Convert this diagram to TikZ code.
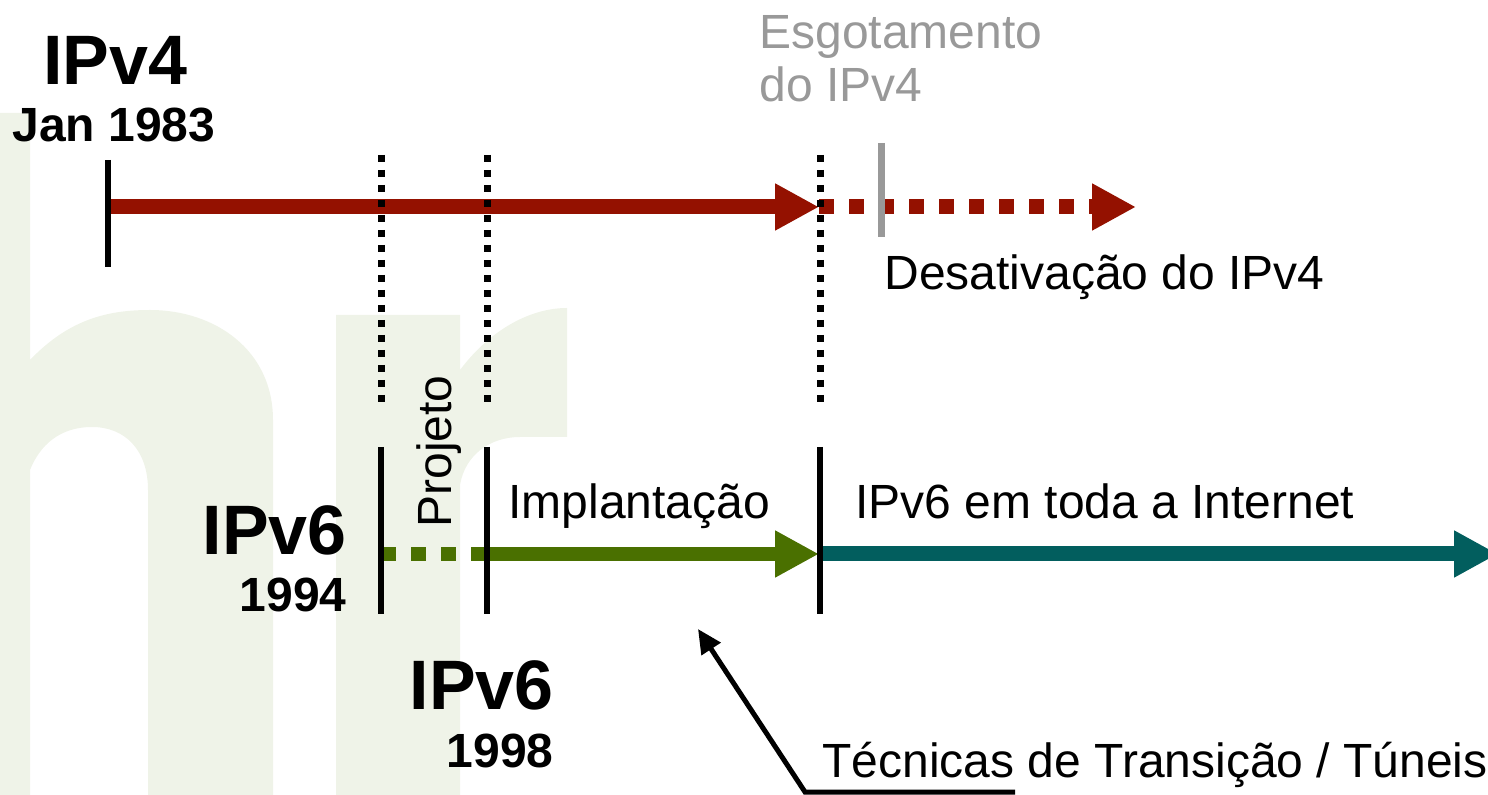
\documentclass[tikz,border=0pt]{standalone}
\usepackage{fontspec}
\setmainfont{Liberation Sans}
\usetikzlibrary{arrows.meta}

\definecolor{vermelho}{RGB}{148,17,0}
\definecolor{verde}{RGB}{74,112,0}
\definecolor{petroleo}{RGB}{2,94,94}
\definecolor{cinza}{RGB}{153,153,153}
\definecolor{marca}{RGB}{239,243,232}

\tikzset{
  titulo/.style={font=\fontsize{35}{40}\selectfont\bfseries, inner sep=0pt},
  ano/.style={font=\fontsize{24}{28}\selectfont\bfseries, inner sep=0pt},
  rotulo/.style={font=\fontsize{24}{28}\selectfont, inner sep=0pt},
  marco/.style={line width=3.3pt},
  pontilhado/.style={line width=3.5pt, dash pattern=on 3.5pt off 4pt},
  seta/.style={line width=7.5pt, -{Triangle[length=22pt,width=22pt]}},
  conector/.style={line width=2.5pt, -{Triangle[length=12pt,width=11pt]}},
}

\begin{document}
\begin{tikzpicture}[x=0.5pt, y=-0.5pt]
\clip (0,0) rectangle (1488,795);

\fill[marca] (0,113) -- (30,113) -- (30,360) .. controls (70,318) and (110,310) .. (150,310)
  .. controls (215,310) and (273,350) .. (273,420) -- (273,795) -- (148,795) -- (148,490)
  .. controls (148,450) and (125,427) .. (92,427) .. controls (60,427) and (40,445) .. (30,470)
  -- (30,795) -- (0,795) -- cycle;
\fill[marca] (336,315) -- (460,315) -- (460,370) .. controls (490,330) and (530,308) .. (567,308)
  -- (567,437) -- (520,437) .. controls (490,437) and (465,455) .. (460,485) -- (460,795)
  -- (336,795) -- cycle;

\coordinate (v4ini) at (108,207);
\coordinate (esgot) at (819,207);
\coordinate (desat) at (1136,207);
\coordinate (v6ini) at (381,554);
\coordinate (v6impl) at (487,554);
\coordinate (v6total) at (819,554);
\coordinate (v6fim) at (1498,554);

\draw[seta, vermelho] (v4ini) -- (esgot);
\draw[seta, vermelho, dash pattern=on 7.5pt off 7.5pt] (esgot) -- (desat);
\draw[verde, line width=7pt, dash pattern=on 7.5pt off 7.5pt] (v6ini) -- (v6impl);
\draw[seta, verde, line width=7pt] (v6impl) -- (v6total);
\draw[seta, petroleo] (v6total) -- (v6fim);

\foreach \x in {381,487,820} {
  \draw[pontilhado] (\x,155) -- (\x,403);
  \draw[marco] (\x,447) -- (\x,614);
}
\draw[marco] (108,160) -- (108,267);
\draw[cinza, line width=3.5pt] (881,143) -- (881,237);

\node[titulo, anchor=base] (ipv4) at (115,85) {IPv4};
\node[ano, anchor=base] (jan) at (114,142) {Jan 1983};
\node[rotulo, text=cinza, anchor=base west] (esg) at (759,49) {Esgotamento};
\node[rotulo, text=cinza, anchor=base west] (esgdo) at (759,102) {do IPv4};
\node[rotulo, anchor=base west] (desativ) at (884,290) {Desativação do IPv4};
\node[rotulo, anchor=base west, rotate=90] (projeto) at (451,528) {Projeto};
\node[rotulo, anchor=base west] (implant) at (508,519) {Implantação};
\node[rotulo, anchor=base west] (inet) at (855,519) {IPv6 em toda a Internet};
\node[titulo, anchor=base east] (ipv6a) at (347,555) {IPv6};
\node[ano, anchor=base east] (ano94) at (347,612) {1994};
\node[titulo, anchor=base east] (ipv6b) at (554,710) {IPv6};
\node[ano, anchor=base east] (ano98) at (554,768) {1998};
\node[rotulo, anchor=base west] (tecnicas) at (822,777) {Técnicas de Transição / Túneis};

\coordinate (traco) at (1015,792);
\coordinate (dobra) at (805,792);
\coordinate (alvo) at (698,629);
\draw[conector] (traco) -- (dobra) -- (alvo);

\end{tikzpicture}
\end{document}
